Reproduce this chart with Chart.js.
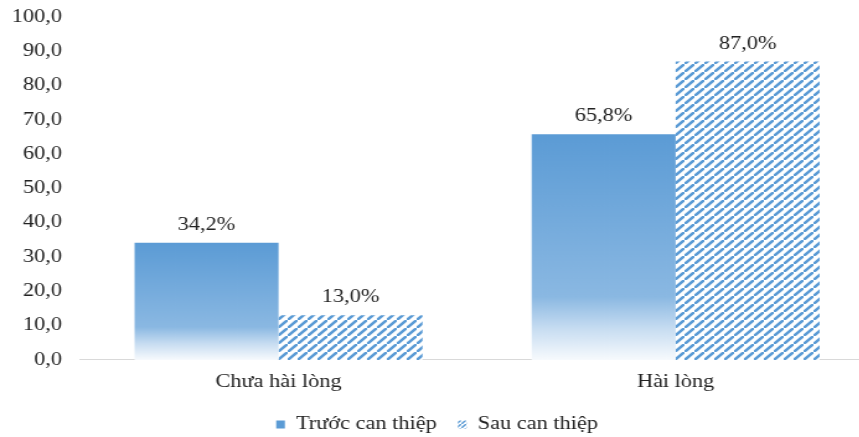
<!DOCTYPE html>
<html lang="vi">
<head>
<meta charset="utf-8">
<title>Mức độ hài lòng</title>
<script src="https://cdn.jsdelivr.net/npm/chart.js@4"></script>
<style>
  html, body { margin: 0; padding: 0; background: #fff; overflow: hidden; }
  /* the source picture is stretched sideways, so the whole chart is too */
  #wrap { width: 705px; height: 437px; position: relative; transform: scaleX(1.24); transform-origin: 0 0; }
</style>
</head>
<body>
<div id="wrap"><canvas id="chart"></canvas></div>
<script>
var categories = ['Chưa hài lòng', 'Hài lòng'];
var seriesNames = ['Trước can thiệp', 'Sau can thiệp'];
var truocValues = [34.2, 65.8];
var sauValues = [13.0, 87.0];

var BLUE = '#5b9bd5';
var FONT = '"Liberation Serif", "Times New Roman", serif';

// hatch: blue "/" stripes on white
function makeHatch(size, lw) {
  var c = document.createElement('canvas');
  c.width = size; c.height = size;
  var g = c.getContext('2d');
  g.fillStyle = '#fff';
  g.fillRect(0, 0, size, size);
  g.strokeStyle = BLUE;
  g.lineWidth = lw;
  g.beginPath();
  g.moveTo(-size, size * 2); g.lineTo(size * 2, -size);
  g.moveTo(-size * 2, size); g.lineTo(size, -size * 2);
  g.moveTo(0, size * 3); g.lineTo(size * 3, 0);
  g.stroke();
  return g.createPattern(c, 'repeat');
}
var ctx = document.getElementById('chart').getContext('2d');
var hatch = makeHatch(8, 2.6);

function gradFill(context) {
  var chart = context.chart;
  if (!chart.chartArea || context.type !== 'data') return BLUE;
  var y = chart.scales.y;
  var top = y.getPixelForValue(context.raw);
  var base = y.getPixelForValue(0);
  var gr = chart.ctx.createLinearGradient(0, top, 0, base);
  gr.addColorStop(0, '#5b9bd5');
  gr.addColorStop(0.72, '#8ab8e2');
  gr.addColorStop(0.86, '#c6dcf1');
  gr.addColorStop(1, '#f7fafd');
  return gr;
}

var valueLabels = {
  id: 'valueLabels',
  afterDatasetsDraw: function(chart) {
    var c = chart.ctx;
    c.save();
    c.font = '18px ' + FONT;
    c.fillStyle = '#222';
    c.textAlign = 'center';
    c.textBaseline = 'alphabetic';
    chart.data.datasets.forEach(function(ds, i) {
      chart.getDatasetMeta(i).data.forEach(function(bar, j) {
        var txt = ds.data[j].toFixed(1).replace('.', ',') + '%';
        c.fillText(txt, bar.x, bar.y - 13);
      });
    });
    c.restore();
  }
};

new Chart(ctx, {
  type: 'bar',
  data: {
    labels: categories,
    datasets: [
      { label: seriesNames[0], data: truocValues, backgroundColor: gradFill, borderWidth: 0 },
      { label: seriesNames[1], data: sauValues, backgroundColor: hatch, borderWidth: 0 }
    ]
  },
  options: {
    responsive: true,
    maintainAspectRatio: false,
    animation: false,
    layout: { padding: { top: 0, right: 0, left: 0, bottom: -6.5 } },
    datasets: { bar: { barPercentage: 1, categoryPercentage: 0.725 } },
    scales: {
      x: {
        afterFit: function(s) { s.height = s.height - 7; },
        grid: { display: false, drawTicks: false },
        border: { display: true, color: '#d9d9d9', width: 1 },
        ticks: { color: '#222', font: { family: FONT, size: 18 }, padding: 12 }
      },
      y: {
        min: 0, max: 100,
        afterFit: function(s) { s.width = 64.5; s.paddingTop = 17; },
        grid: { display: false, drawTicks: false },
        border: { display: false },
        ticks: {
          stepSize: 10, color: '#222', padding: 14.5,
          font: { family: FONT, size: 18 },
          callback: function(v) { return v.toFixed(1).replace('.', ','); }
        }
      }
    },
    plugins: {
      tooltip: { enabled: false },
      legend: {
        position: 'bottom',
        labels: {
          color: '#222',
          font: { family: FONT, size: 18 },
          boxWidth: 7, boxHeight: 8, padding: 17,
          generateLabels: function(chart) {
            return chart.data.datasets.map(function(ds, i) {
              return {
                text: ds.label,
                fillStyle: i === 0 ? BLUE : makeHatch(4, 1.5),
                strokeStyle: 'rgba(0,0,0,0)',
                lineWidth: 0,
                datasetIndex: i,
                fontColor: '#222'
              };
            });
          }
        }
      }
    }
  },
  plugins: [valueLabels]
});
</script>
</body>
</html>
